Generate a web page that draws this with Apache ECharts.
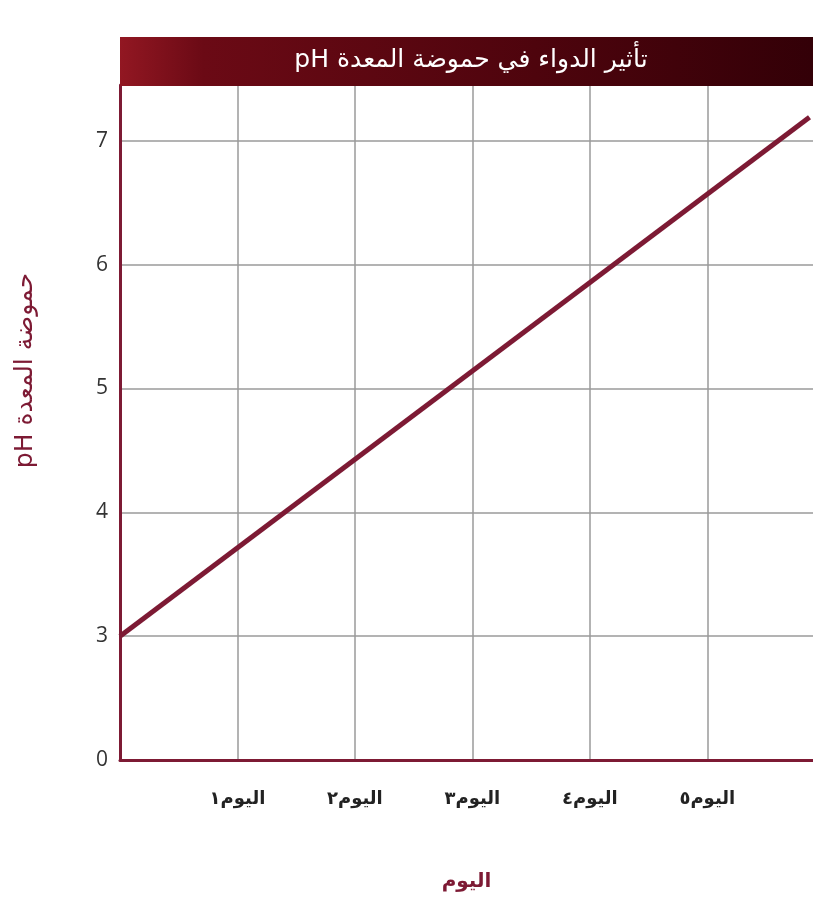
<!DOCTYPE html>
<html>
<head>
<meta charset="utf-8">
<style>
  html, body { margin: 0; padding: 0; background: #fff; }
  #chart { width: 813px; height: 900px; }
</style>
<script src="https://cdn.jsdelivr.net/npm/echarts@6/dist/echarts.min.js"></script>
</head>
<body>
<div id="chart"></div>
<script>
// day labels on the x axis (Arabic-Indic digits)
const dayLabels = ['اليوم١', 'اليوم٢', 'اليوم٣', 'اليوم٤', 'اليوم٥']
// y axis: bottom tick stands for 0, the 0-3 range is squeezed into one step
const yBottomValue = 2
const yBottomLabel = '0'
// stomach pH readings: [day, pH]
const phPoints = [[0, 3], [5.87, 7.19]]

const red = '#7d1a34'
const chart = echarts.init(document.getElementById('chart'))

chart.setOption({
  animation: false,
  grid: { left: 120, right: 0, top: 85, bottom: 140, outerBoundsMode: 'none' },
  title: {
    text: 'pH تأثير الدواء في حموضة المعدة',
    left: 466,
    top: 43,
    textAlign: 'center',
    textStyle: { color: '#fff', fontSize: 25, fontWeight: 'normal', fontFamily: 'DejaVu Sans' },
    z: 20
  },
  graphic: [
    {
      type: 'rect',
      z: 15,
      shape: { x: 120, y: 37, width: 693, height: 49 },
      style: {
        fill: new echarts.graphic.LinearGradient(0, 0, 1, 0, [
          { offset: 0, color: '#921722' },
          { offset: 0.12, color: '#6b0a15' },
          { offset: 0.6, color: '#4e040d' },
          { offset: 1, color: '#330007' }
        ])
      }
    }
  ],
  xAxis: {
    type: 'value',
    min: 0,
    max: 5.9,
    interval: 1,
    name: 'اليوم',
    nameLocation: 'middle',
    nameGap: 112,
    nameTextStyle: { color: red, fontSize: 20, fontWeight: 'bold', fontFamily: 'DejaVu Sans' },
    axisLine: { lineStyle: { color: red, width: 3 } },
    axisTick: { show: false },
    axisLabel: {
      margin: 30,
      color: '#222',
      fontSize: 18,
      fontWeight: 'bold',
      fontFamily: 'DejaVu Sans',
      formatter: v => (Number.isInteger(v) && v >= 1 && v <= dayLabels.length) ? dayLabels[v - 1] : ''
    },
    splitLine: { showMaxLine: false, lineStyle: { color: '#9a9a9a', width: 1.5 } }
  },
  yAxis: {
    type: 'value',
    min: yBottomValue,
    max: 7.45,
    interval: 1,
    name: 'pH حموضة المعدة',
    nameLocation: 'middle',
    nameRotate: 90,
    nameGap: 82,
    nameTextStyle: {
      color: red,
      fontSize: 25,
      fontFamily: 'DejaVu Sans',
      padding: [0, 0, 0, 104]
    },
    axisLine: { show: true, lineStyle: { color: red, width: 3 } },
    axisTick: { show: false },
    axisLabel: {
      margin: 12,
      color: '#333',
      fontSize: 21,
      fontFamily: 'Open Sans',
      formatter: v => v === yBottomValue ? yBottomLabel : (Number.isInteger(v) ? String(v) : '')
    },
    splitLine: { showMaxLine: false, lineStyle: { color: '#9a9a9a', width: 1.5 } }
  },
  series: [
    {
      type: 'line',
      data: phPoints,
      symbol: 'none',
      lineStyle: { color: red, width: 5 },
      z: 5
    }
  ]
})
</script>
</body>
</html>
